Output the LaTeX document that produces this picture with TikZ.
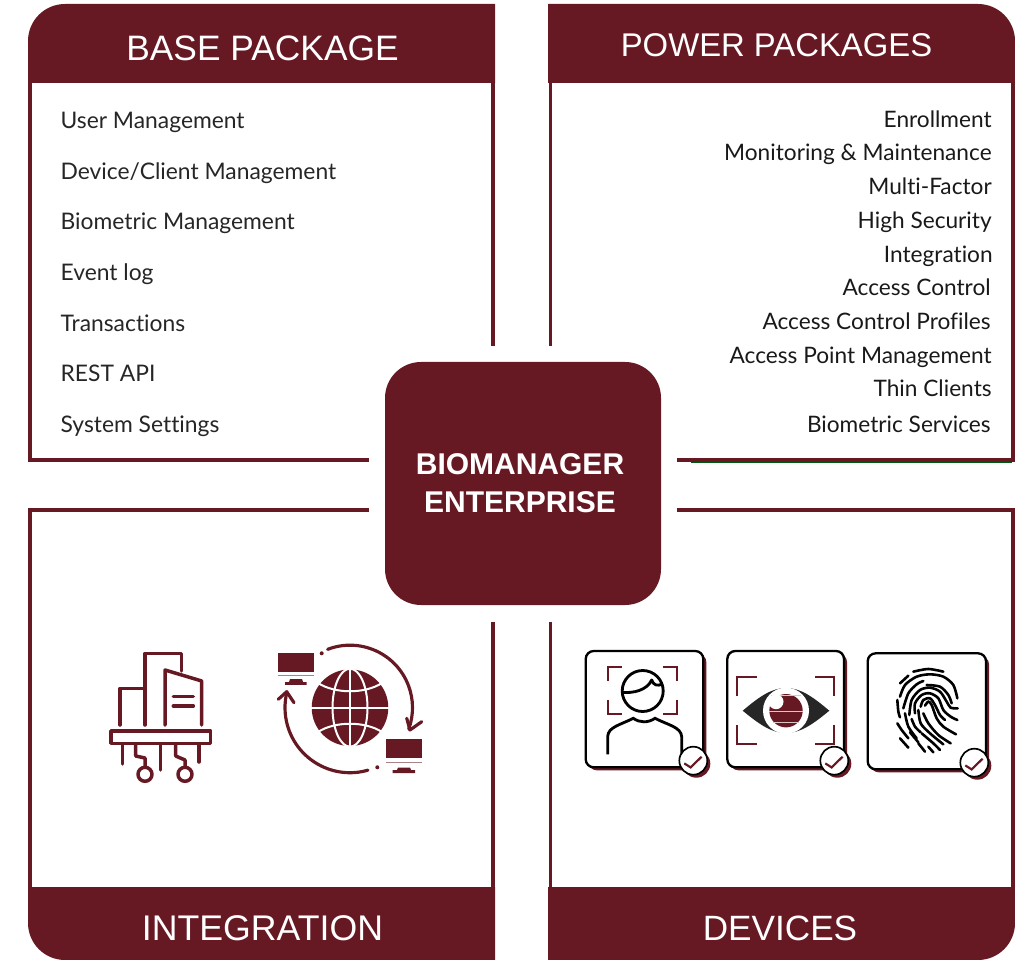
\documentclass[tikz,border=0pt]{standalone}
\usepackage{fontspec}
\setmainfont{Liberation Sans}
\newfontfamily\listfont[Ligatures=NoCommon]{Lato}
\definecolor{wine}{RGB}{102,25,35}
\definecolor{lensgrey}{RGB}{38,38,38}
\definecolor{edgegreen}{RGB}{0,90,20}
\tikzset{
  headfill/.style={fill=wine,draw=none},
  framepen/.style={draw=wine,line width=2pt},
  headtext/.style={inner sep=0pt,text=white,anchor=center},
  listleft/.style={inner sep=0pt,anchor=base west,font=\listfont\fontsize{13.7}{16}\selectfont,text=black!85},
  listright/.style={inner sep=0pt,anchor=base east,font=\listfont\fontsize{13.6}{16}\selectfont,text=black!90},
  iconpen/.style={draw=wine,line width=2.1pt,line cap=round,line join=round},
  arcpen/.style={draw=wine,line width=1.9pt,line cap=round,line join=round},
  bracketpen/.style={draw=wine,line width=1.2pt},
  cardshadow/.style={fill=wine,rounded corners=4.8pt},
  cardface/.style={draw=black,fill=white,line width=1.4pt,rounded corners=4.8pt},
  checkshadow/.style={fill=wine},
  checkface/.style={draw=black,fill=white,line width=1pt},
  checkpen/.style={draw=wine,line width=1.3pt,line join=miter},
  ridgepen/.style={draw=black,line width=1.55pt,line cap=round},
}
\begin{document}
\begin{tikzpicture}[x=0.6pt,y=0.6pt,yscale=-1,xscale=1]
\useasboundingbox (0,0) rectangle (1015,960);

%Shape: Header base package
\fill [headfill] (28,83) -- (28,41) .. controls (28,20.57) and (44.57,4) .. (65,4) -- (495,4) -- (495,83) -- cycle ;
%Shape: Header power packages
\fill [headfill] (548,83) -- (548,4) -- (978,4) .. controls (998.43,4) and (1015,20.57) .. (1015,41) -- (1015,83) -- cycle ;
%Shape: Header integration
\fill [headfill] (28,887) -- (28,923) .. controls (28,943.43) and (44.57,960) .. (65,960) -- (495,960) -- (495,887) -- cycle ;
%Shape: Header devices
\fill [headfill] (548,887) -- (548,960) -- (978,960) .. controls (998.43,960) and (1015,943.43) .. (1015,923) -- (1015,887) -- cycle ;

%Straight Lines
\draw [framepen] (30,83) -- (30,460) -- (368.7,460) ;
\draw [framepen] (493,83) -- (493,346) ;
\draw [framepen] (550.5,83) -- (550.5,346) ;
\draw [edgegreen,line width=0.5pt] (691,462) -- (1012,462) ;
\draw [framepen] (1013,83) -- (1013,460) -- (676.7,460) ;
\draw [framepen] (368.7,510) -- (30,510) -- (30,887) ;
\draw [framepen] (493,621.5) -- (493,887) ;
\draw [framepen] (550.5,621.5) -- (550.5,887) ;
\draw [framepen] (676.7,510) -- (1013,510) -- (1013,887) ;

%Shape: Centre box
\fill [headfill] (385,398) .. controls (385,378.12) and (401.12,362) .. (421,362) -- (625,362) .. controls (644.88,362) and (661,378.12) .. (661,398) -- (661,569) .. controls (661,588.88) and (644.88,605) .. (625,605) -- (421,605) .. controls (401.12,605) and (385,588.88) .. (385,569) -- cycle ;

% Text Node
\draw (262.5,48) node (basehead) [headtext,font=\fontsize{21.2}{24}\selectfont] {BASE PACKAGE};
% Text Node
\draw (776.5,45.5) node (powerhead) [headtext,font=\fontsize{19.7}{24}\selectfont] {POWER PACKAGES};
% Text Node
\draw (262.5,928) node (integrationhead) [headtext,font=\fontsize{21.4}{24}\selectfont] {INTEGRATION};
% Text Node
\draw (780,928) node (deviceshead) [headtext,font=\fontsize{21.1}{24}\selectfont] {DEVICES};
% Text Node
\draw (520,474.5) node (biomanager) [inner sep=0pt,anchor=base,text=white,font=\bfseries\fontsize{18}{22}\selectfont] {BIOMANAGER};
% Text Node
\draw (520,512.5) node (enterprise) [inner sep=0pt,anchor=base,text=white,font=\bfseries\fontsize{18}{22}\selectfont] {ENTERPRISE};

% Text Node
\draw (60.3,129) node (usermgmt) [listleft] {User Management};
% Text Node
\draw (60.3,180) node (devicemgmt) [listleft] {Device/Client Management};
% Text Node
\draw (60.3,230) node (biomgmt) [listleft] {Biometric Management};
% Text Node
\draw (60.3,281) node (eventlog) [listleft] {Event log};
% Text Node
\draw (60.3,332) node (transactions) [listleft] {Transactions};
% Text Node
\draw (60.3,381.5) node (restapi) [listleft] {REST API};
% Text Node
\draw (60.3,432.5) node (settings) [listleft] {System Settings};

% Text Node
\draw (992,128) node (enrollment) [listright] {Enrollment};
% Text Node
\draw (992,161) node (monitoring) [listright] {Monitoring \& Maintenance};
% Text Node
\draw (992,195) node (multifactor) [listright] {Multi-Factor};
% Text Node
\draw (992,229) node (highsecurity) [listright] {High Security};
% Text Node
\draw (993,263) node (integrationitem) [listright] {Integration};
% Text Node
\draw (991,296) node (accesscontrol) [listright] {Access Control};
% Text Node
\draw (991,330) node (accessprofiles) [listright] {Access Control Profiles};
% Text Node
\draw (992,364) node (accesspoint) [listright] {Access Point Management};
% Text Node
\draw (992,397) node (thinclients) [listright] {Thin Clients};
% Text Node
\draw (991,432) node (bioservices) [listright] {Biometric Services};

%Shape: Building icon
\draw [iconpen] (120,725) -- (120,688.3) -- (145,688.3) ;
\draw [iconpen] (145,725) -- (145,653.3) -- (181.7,653.3) -- (181.7,671) ;
\draw [iconpen] (165,725) -- (165,670) -- (201.7,681) -- (201.7,725) ;
\draw [iconpen] (173.3,696.7) -- (193.3,696.7) ;
\draw [iconpen] (173.3,706) -- (193.3,706) ;
\draw [iconpen] (111,731) rectangle (210.7,743.3) ;
\draw [iconpen] (122.3,745) -- (122.3,764) ;
\draw [iconpen] (135.7,745) -- (135.7,756) -- (145,758) -- (145,767) ;
\draw [iconpen] (145,774.3) circle [radius=7] ;
\draw [iconpen] (160.7,745) -- (160.7,770) ;
\draw [iconpen] (175.7,745) -- (175.7,756) -- (185,760) -- (185,767) ;
\draw [iconpen] (185,774.3) circle [radius=7] ;
\draw [iconpen] (199,745) -- (199,762) ;

%Shape: Globe
\coordinate (globec) at (350,707.7);
\fill [wine] (globec) circle [radius=38.3] ;
\draw [white,line width=1.2pt] (350,667) -- (350,748) ;
\draw [white,line width=1.2pt] (310,707.7) -- (390,707.7) ;
\draw [white,line width=1.2pt] (globec) ellipse [x radius=17.5,y radius=39] ;
\draw [white,line width=1.2pt] (318,683) .. controls (335,694) and (365,694) .. (382,683) ;
\draw [white,line width=1.2pt] (318,732) .. controls (335,721) and (365,721) .. (382,732) ;

%Shape: Monitors
\fill [wine] (277.7,652.7) rectangle (314,671.7) ;
\draw [wine!55,line width=0.6pt] (277.7,675.7) -- (314,675.7) ;
\fill [wine] (290,679) -- (302,679) -- (303,682) -- (306.7,682) -- (306.7,684.8) -- (285,684.8) -- (285,682) -- (289,682) -- cycle ;
\fill [wine] (386,739.3) rectangle (422,758.3) ;
\draw [wine!55,line width=0.6pt] (386,762.7) -- (422,762.7) ;
\fill [wine] (398,767.5) -- (410,767.5) -- (411,770) -- (415,770) -- (415,773) -- (392.7,773) -- (392.7,770) -- (397,770) -- cycle ;

%Curve Lines
\draw [arcpen] (globec) ++(-111:62.5) arc [start angle=-111,end angle=20,radius=62.5] ;
\draw [arcpen] (406.7,718.3) -- (410,730) -- (421.7,721.7) ;
\fill [wine] (321.7,653.3) circle [radius=2] ;
\draw [arcpen] (globec) ++(74:65) arc [start angle=74,end angle=194,radius=65] ;
\draw [arcpen] (278.3,699.3) -- (286.7,691.7) -- (294,702.7) ;
\fill [wine] (377.3,767.3) circle [radius=2] ;

%Shape: Face card
\fill [cardshadow] (588.7,654) rectangle (706.3,770.3) ;
\draw [cardface] (585.7,651) rectangle (703.3,767.3) ;
\draw [bracketpen] (621.7,666.7) -- (607.7,666.7) -- (607.7,680.7) ;
\draw [bracketpen] (662.7,666.7) -- (676.7,666.7) -- (676.7,680.7) ;
\draw [bracketpen] (607.7,700) -- (607.7,714) -- (621.7,714) ;
\draw [bracketpen] (676.7,700) -- (676.7,714) -- (662.7,714) ;
\draw [black,line width=1.7pt] (642.7,691) circle [radius=20.5] ;
\draw [black,line width=1.7pt,line join=round] (622,692.3) .. controls (634,693.5) and (647,690) .. (651.7,680) .. controls (653,685) and (658,687) .. (662.7,683.5) ;
\draw [black,line width=1.7pt] (607.7,754.3) -- (607.7,736.7) .. controls (608,727) and (620,725) .. (633.3,718.3) .. controls (640,723) and (648,723) .. (655,718.3) .. controls (668,725) and (681,727) .. (681.7,736.7) -- (681.7,755) ;
\fill [checkshadow] (696.3,763.7) circle [radius=14] ;
\draw [checkface] (693.3,760.7) circle [radius=14] ;
\draw [checkpen] (684.3,763.4) -- (690.6,767.4) -- (701.6,756.7) ;

%Shape: Eye card
\fill [cardshadow] (730.3,654) rectangle (847,770.3) ;
\draw [cardface] (727.3,651) rectangle (844,767.3) ;
\draw [bracketpen] (756.5,677.3) -- (736.7,677.3) -- (736.7,696) ;
\draw [bracketpen] (815,677.3) -- (834.3,677.3) -- (834.3,696) ;
\draw [bracketpen] (736.7,725) -- (736.7,744.3) -- (756.5,744.3) ;
\draw [bracketpen] (834.3,725) -- (834.3,744.3) -- (815,744.3) ;
\fill [lensgrey] (742.7,710.7) .. controls (760,696) and (772,688) .. (786,688) .. controls (800,688) and (812,696) .. (829.3,710.7) .. controls (812,725) and (800,733) .. (786,733) .. controls (772,733) and (760,725) .. (742.7,710.7) -- cycle ;
\fill [white] (786,710.7) circle [radius=23] ;
\fill [wine] (786,710.7) circle [radius=16.7] ;
\draw [white!75!wine,line width=0.6pt] (771,695) -- (801,695) ;
\draw [white!75!wine,line width=0.8pt] (769.3,711.7) -- (802.7,711.7) ;
\draw [white!75!wine,line width=0.6pt] (773,722.3) -- (799,722.3) ;
\fill [white] (776,701.7) circle [radius=7.5] ;
\fill [checkshadow] (837.3,763.7) circle [radius=14] ;
\draw [checkface] (834.3,760.7) circle [radius=14] ;
\draw [checkpen] (825.3,763.4) -- (831.6,767.4) -- (842.6,756.7) ;

%Shape: Fingerprint card
\fill [cardshadow] (870.7,656.3) rectangle (989,772.3) ;
\draw [cardface] (867.7,653.3) rectangle (986,769.3) ;
\begin{scope}[shift={(880,655)},x=0.2pt,y=0.2pt]
\draw [ridgepen] plot [smooth] coordinates {(100,50) (145,42) (190,50)} ;
\draw [ridgepen] plot [smooth] coordinates {(60,85) (85,62)} ;
\draw [ridgepen] plot [smooth] coordinates {(60,125) (75,90) (110,65) (150,58) (190,65) (220,90) (232,130)} ;
\draw [ridgepen] plot [smooth] coordinates {(70,160) (85,115) (110,88) (130,78)} ;
\draw [ridgepen] plot [smooth] coordinates {(140,90) (180,95) (205,120) (215,145)} ;
\draw [ridgepen] plot [smooth] coordinates {(88,180) (95,135) (120,105) (150,98) (180,110) (200,140) (212,158) (233,160)} ;
\draw [ridgepen] plot [smooth] coordinates {(105,175) (105,145) (125,120) (150,115) (175,130) (190,165) (212,185) (232,195)} ;
\draw [ridgepen] plot [smooth] coordinates {(122,155) (130,135) (150,130) (165,150) (180,180) (195,195)} ;
\draw [ridgepen] plot [smooth] coordinates {(135,152) (145,140) (155,150) (170,190) (190,215) (228,238)} ;
\draw [ridgepen] plot [smooth] coordinates {(52,135) (55,170) (60,187)} ;
\draw [ridgepen] plot [smooth] coordinates {(52,205) (65,225) (85,250)} ;
\draw [ridgepen] plot [smooth] coordinates {(75,175) (85,215) (110,250)} ;
\draw [ridgepen] plot [smooth] coordinates {(95,192) (105,215) (122,232)} ;
\draw [ridgepen] plot [smooth] coordinates {(115,165) (122,205) (150,235) (190,268)} ;
\draw [ridgepen] plot [smooth] coordinates {(130,175) (145,205) (175,240) (212,265)} ;
\draw [ridgepen] plot [smooth] coordinates {(60,250) (85,278)} ;
\draw [ridgepen] plot [smooth] coordinates {(125,235) (160,265) (180,285)} ;
\draw [ridgepen] plot [smooth] coordinates {(115,265) (135,290)} ;
\draw [ridgepen] plot [smooth] coordinates {(90,232) (115,262)} ;
\draw [ridgepen] plot [smooth] coordinates {(145,275) (160,292)} ;
\end{scope}
\fill [checkshadow] (977.3,765.7) circle [radius=14] ;
\draw [checkface] (974.3,762.7) circle [radius=14] ;
\draw [checkpen] (965.3,765.4) -- (971.6,769.4) -- (982.6,758.7) ;
\end{tikzpicture}
\end{document}
